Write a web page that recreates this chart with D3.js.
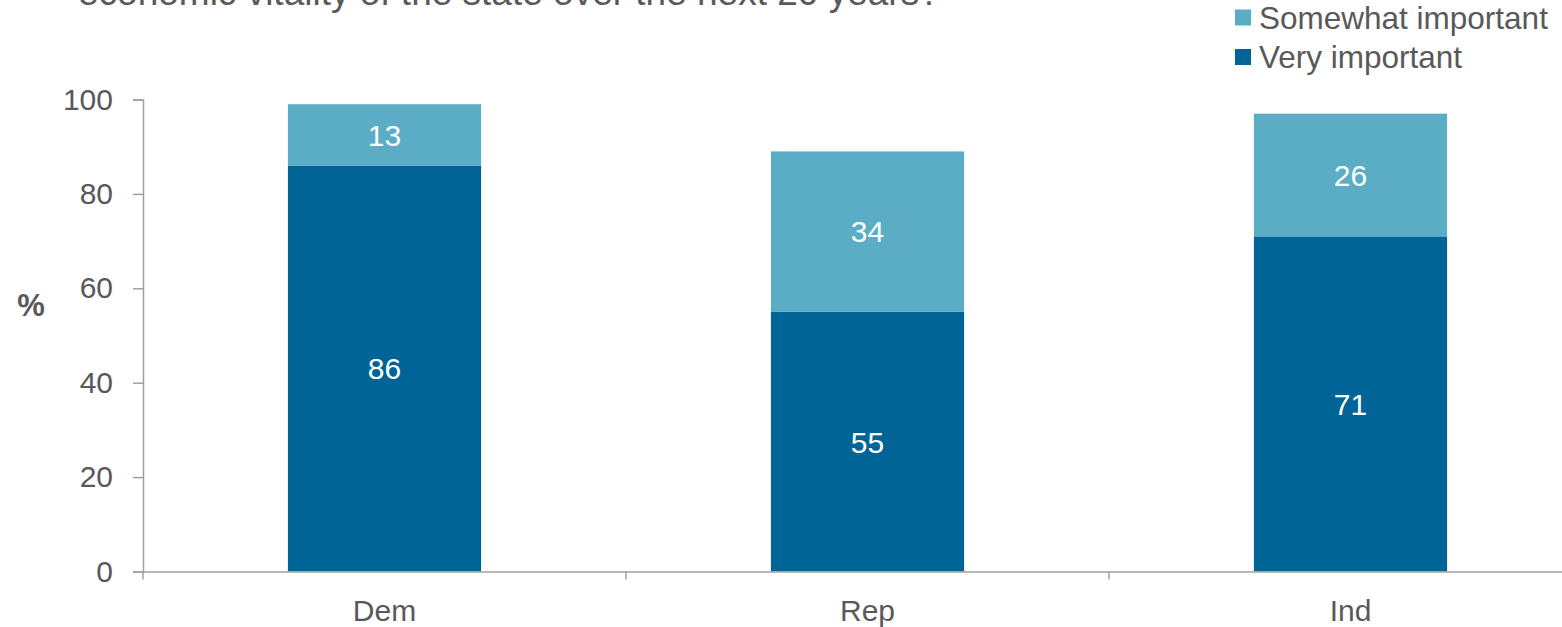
<!DOCTYPE html>
<html>
<head>
<meta charset="utf-8">
<script src="https://cdn.jsdelivr.net/npm/d3@7"></script>
<style>
  html, body { margin: 0; padding: 0; background: #fff; }
  svg { display: block; font-family: "Liberation Sans", Arial, sans-serif; }
</style>
</head>
<body>
<svg id="chart" width="1562" height="627"></svg>
<script>
const categories = ["Dem", "Rep", "Ind"];
const veryImportant = [86, 55, 71];
const somewhatImportant = [13, 34, 26];
const seriesNames = ["Very important", "Somewhat important"];
const yTicks = [0, 20, 40, 60, 80, 100];
const titleText = "economic vitality of the state over the next 20 years?";

const colors = { "Very important": "#006496", "Somewhat important": "#5aadc5" };
const textColor = "#595959";
const axisColor = "#a0a0a0";

const svg = d3.select("#chart");
const plotLeft = 143, plotRight = 1592, plotTop = 99.5, plotBottom = 571.5;

const x = d3.scaleBand().domain(categories).range([plotLeft, plotRight]).paddingInner(0).paddingOuter(0);
const y = d3.scaleLinear().domain([0, 100]).range([plotBottom, plotTop]);

const rows = categories.map((c, i) => ({ cat: c, "Very important": veryImportant[i], "Somewhat important": somewhatImportant[i] }));
const stacked = d3.stack().keys(seriesNames)(rows);

const barW = x.bandwidth() * 0.4;

// bars
const g = svg.append("g");
stacked.forEach(layer => {
  g.selectAll(null).data(layer).enter().append("rect")
    .attr("x", d => x(d.data.cat) + (x.bandwidth() - barW) / 2)
    .attr("y", d => y(d[1]))
    .attr("width", barW)
    .attr("height", d => y(d[0]) - y(d[1]))
    .attr("fill", colors[layer.key]);
  g.selectAll(null).data(layer).enter().append("text")
    .attr("x", d => x(d.data.cat) + x.bandwidth() / 2)
    .attr("y", d => y((d[0] + d[1]) / 2))
    .attr("dy", "0.36em")
    .attr("text-anchor", "middle")
    .attr("fill", "#fff")
    .style("font-size", "30px")
    .text(d => d[1] - d[0]);
});

// y axis
const yAxis = svg.append("g").attr("transform", `translate(${plotLeft},0)`)
  .call(d3.axisLeft(y).tickValues(yTicks).tickSize(10).tickPadding(20));
yAxis.select(".domain").attr("stroke", axisColor).attr("stroke-width", 1.5);
yAxis.selectAll(".tick line").attr("stroke", axisColor).attr("stroke-width", 1.5);
yAxis.selectAll(".tick text").attr("fill", textColor).style("font-size", "30px").style("font-family", "Liberation Sans, Arial, sans-serif");

// x axis
const xAxis = svg.append("g").attr("transform", `translate(0,${plotBottom})`)
  .call(d3.axisBottom(x).tickSize(0).tickPadding(28));
xAxis.select(".domain").attr("stroke", axisColor).attr("stroke-width", 1.5);
xAxis.selectAll(".tick text").attr("fill", textColor).style("font-size", "30px").style("font-family", "Liberation Sans, Arial, sans-serif");
// category boundary ticks
const boundaries = categories.map(c => x(c)).concat([x(categories[categories.length - 1]) + x.bandwidth()]);
xAxis.selectAll(".bticks").data(boundaries).enter().append("line")
  .attr("x1", d => d).attr("x2", d => d).attr("y1", 0).attr("y2", 8)
  .attr("stroke", axisColor).attr("stroke-width", 1.5);

// y title
svg.append("text").attr("x", 31).attr("y", 305).attr("dy", "0.36em")
  .attr("text-anchor", "middle").attr("fill", textColor)
  .style("font-size", "31px").style("font-weight", "bold").text("%");

// title (cut off at top)
svg.append("text").attr("x", 78).attr("y", 5).attr("fill", textColor)
  .style("font-size", "37px").text(titleText);

// legend
const legendItems = ["Somewhat important", "Very important"];
const lg = svg.append("g");
legendItems.forEach((name, i) => {
  const cy = 17.5 + i * 39.5;
  lg.append("rect").attr("x", 1235).attr("y", cy - 8).attr("width", 16).attr("height", 16).attr("fill", colors[name]);
  lg.append("text").attr("x", 1259).attr("y", cy).attr("dy", "0.36em").attr("fill", textColor)
    .style("font-size", "31.5px").text(name);
});
</script>
</body>
</html>
